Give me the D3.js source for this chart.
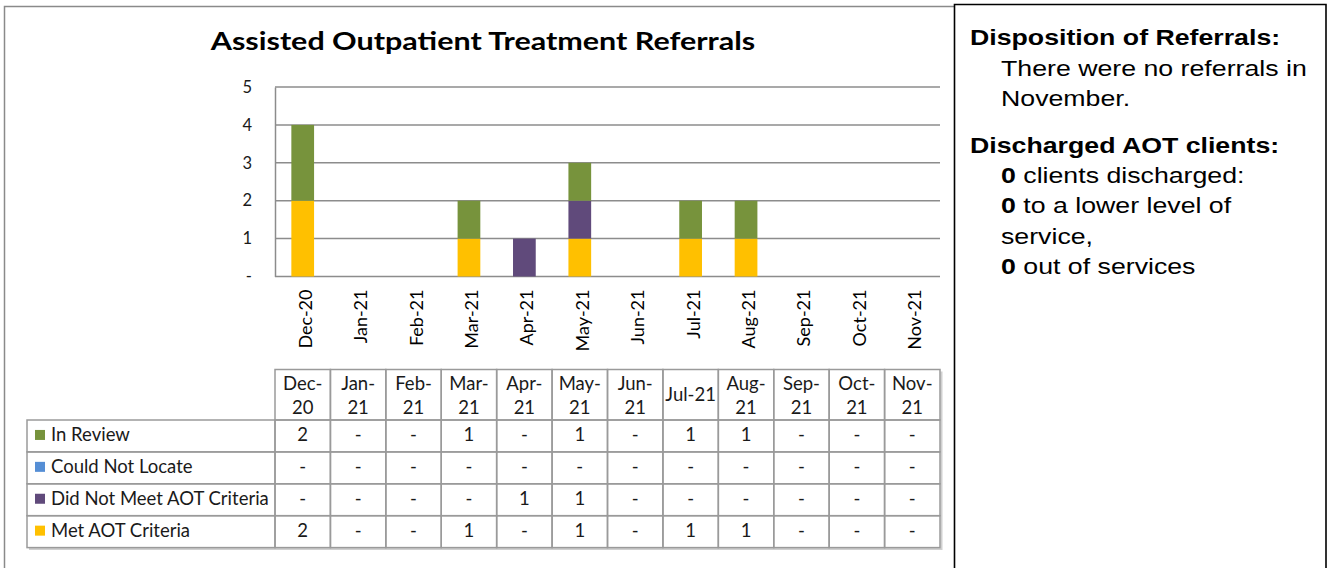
<!DOCTYPE html>
<html>
<head>
<meta charset="utf-8">
<script src="https://cdn.jsdelivr.net/npm/d3@7"></script>
<style>
  body { margin: 0; background: #fff; }
  svg { display: block; }
</style>
</head>
<body>
<div id="chart-container"></div>
<script>
// Data
const months = ["Dec-20", "Jan-21", "Feb-21", "Mar-21", "Apr-21", "May-21", "Jun-21", "Jul-21", "Aug-21", "Sep-21", "Oct-21", "Nov-21"];
const headerLines = [["Dec-", "20"], ["Jan-", "21"], ["Feb-", "21"], ["Mar-", "21"], ["Apr-", "21"], ["May-", "21"], ["Jun-", "21"], ["Jul-21"], ["Aug-", "21"], ["Sep-", "21"], ["Oct-", "21"], ["Nov-", "21"]];
const seriesNames = ["In Review", "Could Not Locate", "Did Not Meet AOT Criteria", "Met AOT Criteria"];
const inReview       = [2, 0, 0, 1, 0, 1, 0, 1, 1, 0, 0, 0];
const couldNotLocate = [0, 0, 0, 0, 0, 0, 0, 0, 0, 0, 0, 0];
const didNotMeet     = [0, 0, 0, 0, 1, 1, 0, 0, 0, 0, 0, 0];
const metCriteria    = [2, 0, 0, 1, 0, 1, 0, 1, 1, 0, 0, 0];
const yTicks = [0, 1, 2, 3, 4, 5];

const colors = ["#77933c", "#558ed5", "#604a7b", "#ffc000"];
const seriesValues = [inReview, couldNotLocate, didNotMeet, metCriteria];

// Dimensions
const width = 1330;
const height = 568;
const plotLeft = 275, plotRight = 940, plotTop = 87, plotBottom = 276.5;
const chartFont = "Lato, 'Open Sans', sans-serif";

const svg = d3.create("svg")
  .attr("width", width)
  .attr("height", height)
  .attr("viewBox", [0, 0, width, height]);

// Chart frame (gray) and text panel (black)
svg.append("path")
  .attr("d", `M4.5,${height + 2}V6.5H954`)
  .attr("fill", "none")
  .attr("stroke", "#8a8a8a")
  .attr("stroke-width", 1.5);

svg.append("path")
  .attr("d", `M954.5,${height + 2}V4.5H1326V${height + 2}`)
  .attr("fill", "none")
  .attr("stroke", "#000")
  .attr("stroke-width", 1.6);

// Title (the reference type is wider than Lato, so stretch it a little)
svg.append("text")
  .attr("transform", "translate(483,50) scale(1.26,1)")
  .attr("text-anchor", "middle")
  .attr("font-family", chartFont)
  .attr("font-weight", "bold")
  .attr("font-size", 24.2)
  .attr("fill", "#000")
  .text("Assisted Outpatient Treatment Referrals");

// Scales
const x = d3.scaleBand()
  .domain(months)
  .range([plotLeft, plotRight])
  .paddingInner(0.59)
  .paddingOuter(0.295);

const xCell = d3.scaleBand()
  .domain(months)
  .range([plotLeft, plotRight]);

const y = d3.scaleLinear()
  .domain([0, 5])
  .range([plotBottom, plotTop]);

// Gridlines
svg.append("g")
  .selectAll("line")
  .data(yTicks)
  .join("line")
  .attr("x1", plotLeft)
  .attr("x2", plotRight)
  .attr("y1", d => y(d))
  .attr("y2", d => y(d))
  .attr("stroke", "#8c8c8c")
  .attr("stroke-width", 1.5);

// Y axis
svg.append("g")
  .attr("transform", `translate(${plotLeft},0)`)
  .call(d3.axisLeft(y).tickValues(yTicks).tickSize(0).tickPadding(23)
    .tickFormat(d => d === 0 ? "-" : d))
  .call(g => g.select(".domain").attr("stroke", "#8c8c8c").attr("stroke-width", 1.5))
  .call(g => g.selectAll("text")
    .attr("font-family", chartFont)
    .attr("font-size", 16.5)
    .attr("fill", "#1a1a1a"));

// Stacked bars (bottom to top: Met, Did Not Meet, Could Not Locate, In Review)
const table = months.map((m, i) => ({
  month: m,
  "Met AOT Criteria": metCriteria[i],
  "Did Not Meet AOT Criteria": didNotMeet[i],
  "Could Not Locate": couldNotLocate[i],
  "In Review": inReview[i]
}));
const stackKeys = ["Met AOT Criteria", "Did Not Meet AOT Criteria", "Could Not Locate", "In Review"];
const stacked = d3.stack().keys(stackKeys)(table);
const colorOf = k => colors[seriesNames.indexOf(k)];

svg.append("g")
  .selectAll("g")
  .data(stacked)
  .join("g")
  .attr("fill", d => colorOf(d.key))
  .selectAll("rect")
  .data(d => d.filter(s => s[1] > s[0]))
  .join("rect")
  .attr("x", d => x(d.data.month))
  .attr("width", x.bandwidth())
  .attr("y", d => y(d[1]))
  .attr("height", d => y(d[0]) - y(d[1]));

// X axis labels (rotated)
svg.append("g")
  .selectAll("text")
  .data(months)
  .join("text")
  .attr("transform", d => `translate(${xCell(d) + xCell.bandwidth() / 2 + 9},289.5) rotate(-90)`)
  .attr("text-anchor", "end")
  .attr("font-family", chartFont)
  .attr("font-size", 18)
  .attr("fill", "#000")
  .text(d => d);

// Data table
const headTop = 369.5, headBottom = 420;
const rowH = 31.9;
const tableLeft = 27;
const tsize = 18.5;

// shadow
svg.append("path")
  .attr("d", `M${tableLeft + 2},${headBottom + rowH * 4 + 1.5}H${plotRight + 1.5}V${headTop + 2}`)
  .attr("fill", "none")
  .attr("stroke", "#d0d0d0")
  .attr("stroke-width", 2);

const grid = svg.append("g").attr("stroke", "#9a9a9a").attr("stroke-width", 1.5).attr("fill", "none");

// header cells
grid.selectAll(".hcell")
  .data(months)
  .join("rect")
  .attr("class", "hcell")
  .attr("x", d => xCell(d))
  .attr("y", headTop)
  .attr("width", xCell.bandwidth())
  .attr("height", headBottom - headTop);

// body rows
seriesNames.forEach((name, r) => {
  const top = headBottom + r * rowH;
  grid.append("rect")
    .attr("x", tableLeft)
    .attr("y", top)
    .attr("width", plotLeft - tableLeft)
    .attr("height", rowH);
  grid.selectAll(null)
    .data(months)
    .join("rect")
    .attr("x", d => xCell(d))
    .attr("y", top)
    .attr("width", xCell.bandwidth())
    .attr("height", rowH);

  svg.append("rect")
    .attr("x", 35)
    .attr("y", top + rowH / 2 - 6)
    .attr("width", 10)
    .attr("height", 10)
    .attr("fill", colors[r]);

  svg.append("text")
    .attr("x", 51)
    .attr("y", top + rowH / 2 + 5.5)
    .attr("font-family", chartFont)
    .attr("font-size", tsize)
    .attr("fill", "#1a1a1a")
    .text(name);

  svg.append("g")
    .selectAll("text")
    .data(seriesValues[r])
    .join("text")
    .attr("x", (d, i) => xCell(months[i]) + xCell.bandwidth() / 2)
    .attr("y", top + rowH / 2 + 5.5)
    .attr("text-anchor", "middle")
    .attr("font-family", chartFont)
    .attr("font-size", tsize)
    .attr("fill", "#1a1a1a")
    .text(d => d === 0 ? "-" : d);
});

// header text
svg.append("g")
  .selectAll("text")
  .data(headerLines)
  .join("text")
  .attr("x", (d, i) => xCell(months[i]) + xCell.bandwidth() / 2)
  .attr("y", d => d.length === 1 ? 400.5 : 390)
  .attr("text-anchor", "middle")
  .attr("font-family", chartFont)
  .attr("font-size", tsize)
  .attr("fill", "#1a1a1a")
  .selectAll("tspan")
  .data(d => d)
  .join("tspan")
  .attr("x", function () { return this.parentNode.getAttribute("x"); })
  .attr("dy", (d, i) => i === 0 ? 0 : 23.5)
  .text(d => d);

// Right text panel
const panelLines = [
  { x: 970, y: 45, parts: [{ t: "Disposition of Referrals:", b: true }] },
  { x: 1001, y: 76, parts: [{ t: "There were no referrals in", b: false }] },
  { x: 1001, y: 106, parts: [{ t: "November.", b: false }] },
  { x: 970, y: 153, parts: [{ t: "Discharged AOT clients:", b: true }] },
  { x: 1001, y: 183, parts: [{ t: "0", b: true }, { t: " clients discharged:", b: false }] },
  { x: 1001, y: 213, parts: [{ t: "0", b: true }, { t: " to a lower level of", b: false }] },
  { x: 1001, y: 244, parts: [{ t: "service,", b: false }] },
  { x: 1001, y: 274, parts: [{ t: "0", b: true }, { t: " out of services", b: false }] }
];

svg.append("g")
  .selectAll("text")
  .data(panelLines)
  .join("text")
  .attr("transform", d => `translate(${d.x},${d.y}) scale(1.26,1)`)
  .attr("font-family", "'Liberation Sans', Arial, sans-serif")
  .attr("font-size", 21.2)
  .attr("fill", "#000")
  .selectAll("tspan")
  .data(d => d.parts)
  .join("tspan")
  .attr("font-weight", d => d.b ? "bold" : "normal")
  .text(d => d.t);

document.getElementById("chart-container").appendChild(svg.node());
</script>
</body>
</html>
